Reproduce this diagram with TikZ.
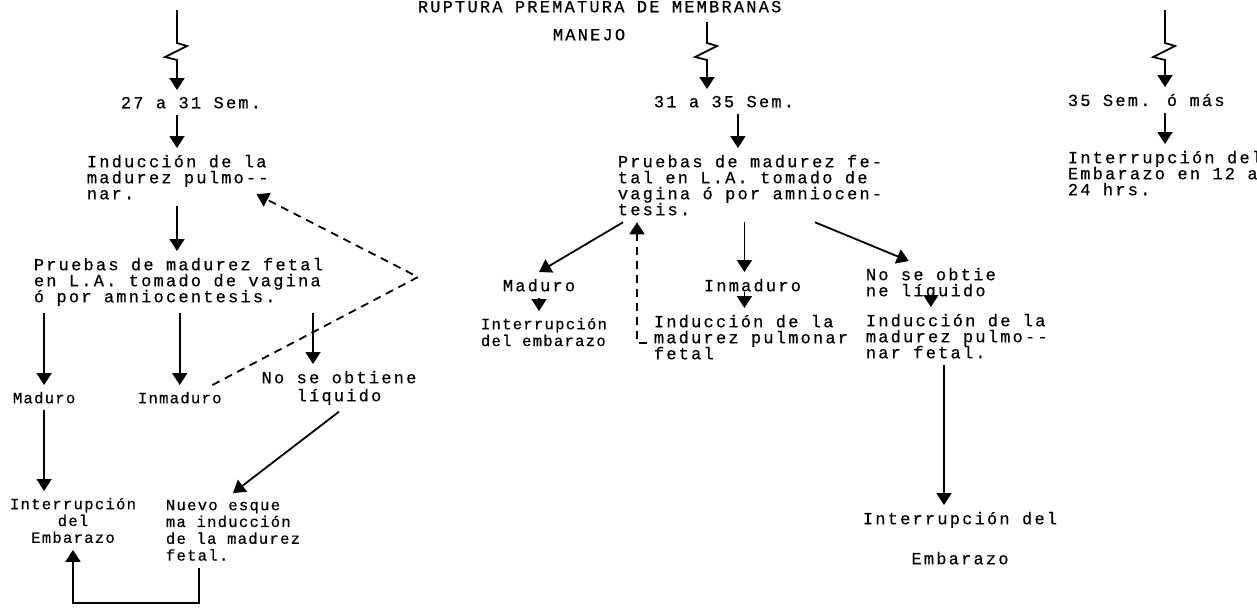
\documentclass[tikz,border=0pt]{standalone}
\usepackage{fontspec}
\usepackage{tikz}
\usetikzlibrary{arrows.meta, positioning}
\newfontfamily\tw[LetterSpace=13, FakeBold=0.5]{Liberation Mono}
\newfontfamily\tws[LetterSpace=8, FakeBold=0.5]{Liberation Mono}
\newcommand\tightlines{\lineskiplimit=-20pt\relax}
\tikzset{
>={Triangle[width=7.5pt,length=6pt]}, % filled arrow heads
txt/.style={font={\tw\fontsize{8.5pt}{8pt}\selectfont\tightlines}, inner sep=3pt, align=left, anchor=north west}, % typed text
sml/.style={txt, font={\tws\fontsize{7.8pt}{8.4pt}\selectfont\tightlines}}, % narrower typing
ctr/.style={align=center, anchor=north},
dsh/.style={dash pattern=on 4pt off 3pt}, % dashed return arrows
}

\begin{document}
\begin{tikzpicture}[x=0.5pt, y=-0.5pt, line width=0.9pt]
\useasboundingbox (0,0) rectangle (1257,607);

\node[txt] (title) at (411,-6) {RUPTURA PREMATURA DE MEMBRANAS};
\node[txt] (manejo) at (546,22) {MANEJO};

% 27 a 31 semanas
\coordinate (topA) at (177,10);
\node[txt] (sA) at (114,90) {27 a 31 Sem.};
\node[txt] (indA) at (80,148) {Inducción de la\\madurez pulmo--\\nar.};
\node[txt] (prA) at (27,251) {Pruebas de madurez fetal\\en L.A. tomado de vagina\\ó por amniocentesis.};
\node[sml] (madA) at (6,385) {Maduro};
\node[sml] (inmA) at (131,385) {Inmaduro};
\node[txt,ctr] (noA) at (339,364) {No se obtiene\\[1pt]líquido};
\node[sml,ctr] (intA) at (73,491) {Interrupción\\del\\Embarazo};
\node[sml] (nuevo) at (159,493) {Nuevo esque\\ma inducción\\de la madurez\\fetal.};
\coordinate (bend) at (418,277);

\draw[->] (topA) -- ++(0,33) -- ++(10,3) -- ++(-22,11) -- ++(12,3) -- (topA |- sA.north);
\draw[->] (topA |- sA.south) -- (topA |- indA.north);
\draw[->] (topA |- indA.south) -- (topA |- prA.north);
\draw[->] (prA.south -| madA.north) -- (madA.north);
\draw[->] (prA.south -| inmA.north) -- (inmA.north);
\draw[->] ([xshift=-13pt]noA.north |- prA.south) -- ([xshift=-13pt]noA.north);
\draw[->] (madA.south) -- (madA.south |- intA.north);
\draw[->] (noA.south) -- (nuevo.north);
\draw[->] ([xshift=20pt]nuevo.south west) -- ++(0,35) -| (intA.south);
\draw[dsh,->] ([xshift=-8pt]inmA.north east) -- (bend) -- ([xshift=-9.5pt,yshift=6pt]indA.south east);

% 31 a 35 semanas
\coordinate (topB) at (707,22);
\node[txt] (sB) at (647,89) {31 a 35 Sem.};
\node[txt] (prB) at (611,148) {Pruebas de madurez fe-\\tal en L.A. tomado de\\vagina ó por amniocen-\\tesis.};
\node[txt] (madB) at (496,272) {Maduro};
\node[sml] (intB) at (474,311) {Interrupción\\del embarazo};
\node[txt] (inmB) at (697,272) {Inmaduro};
\node[txt] (indB) at (647,308) {Inducción de la\\madurez pulmonar\\fetal};
\node[txt] (noB) at (859,261) {No se obtie\\ne líquido};
\node[txt] (indC) at (859,307) {Inducción de la\\madurez pulmo--\\nar fetal.};
\node[txt,ctr] (intC) at (960,505) {Interrupción del\\[12pt]Embarazo};

\draw[->] (topB) -- ++(0,21) -- ++(10,3) -- ++(-22,11) -- ++(12,3) -- (topB |- sB.north);
\draw[->] ([xshift=7pt]sB.south) -- ([xshift=7pt]sB.south |- prB.north);
\draw[->] ([xshift=6pt]prB.south west) -- (madB.north);
\draw[->] ([xshift=-4pt]inmB.north |- prB.south) -- ([xshift=-4pt]inmB.north);
\draw[->] ([xshift=-4pt,yshift=3pt]inmB.south) -- ([xshift=-4pt]inmB.south |- indB.north);
\draw[->] (madB.south) -- (madB.south |- intB.north);
\draw[dsh,->] ([yshift=-3pt]indB.west) -| ([xshift=13pt]prB.south west);
\draw[->] ([xshift=-37pt]prB.south east) -- ([xshift=-11pt]noB.north);
\draw[->] ([yshift=4pt]noB.south) -- (noB.south |- indC.north);
\draw[->] ([xshift=-8pt]intC.north |- indC.south) -- ([xshift=-8pt]intC.north);

% 35 semanas o mas
\coordinate (topC) at (1165,10);
\node[txt] (sC) at (1061,87) {35 Sem. ó más};
\node[txt] (intD) at (1061,144) {Interrupción del\\Embarazo en 12 a\\24 hrs.};

\draw[->] (topC) -- ++(0,33) -- ++(10,3) -- ++(-22,11) -- ++(12,3) -- (topC |- sC.north);
\draw[->] (topC |- sC.south) -- (topC |- intD.north);
\end{tikzpicture}
\end{document}
